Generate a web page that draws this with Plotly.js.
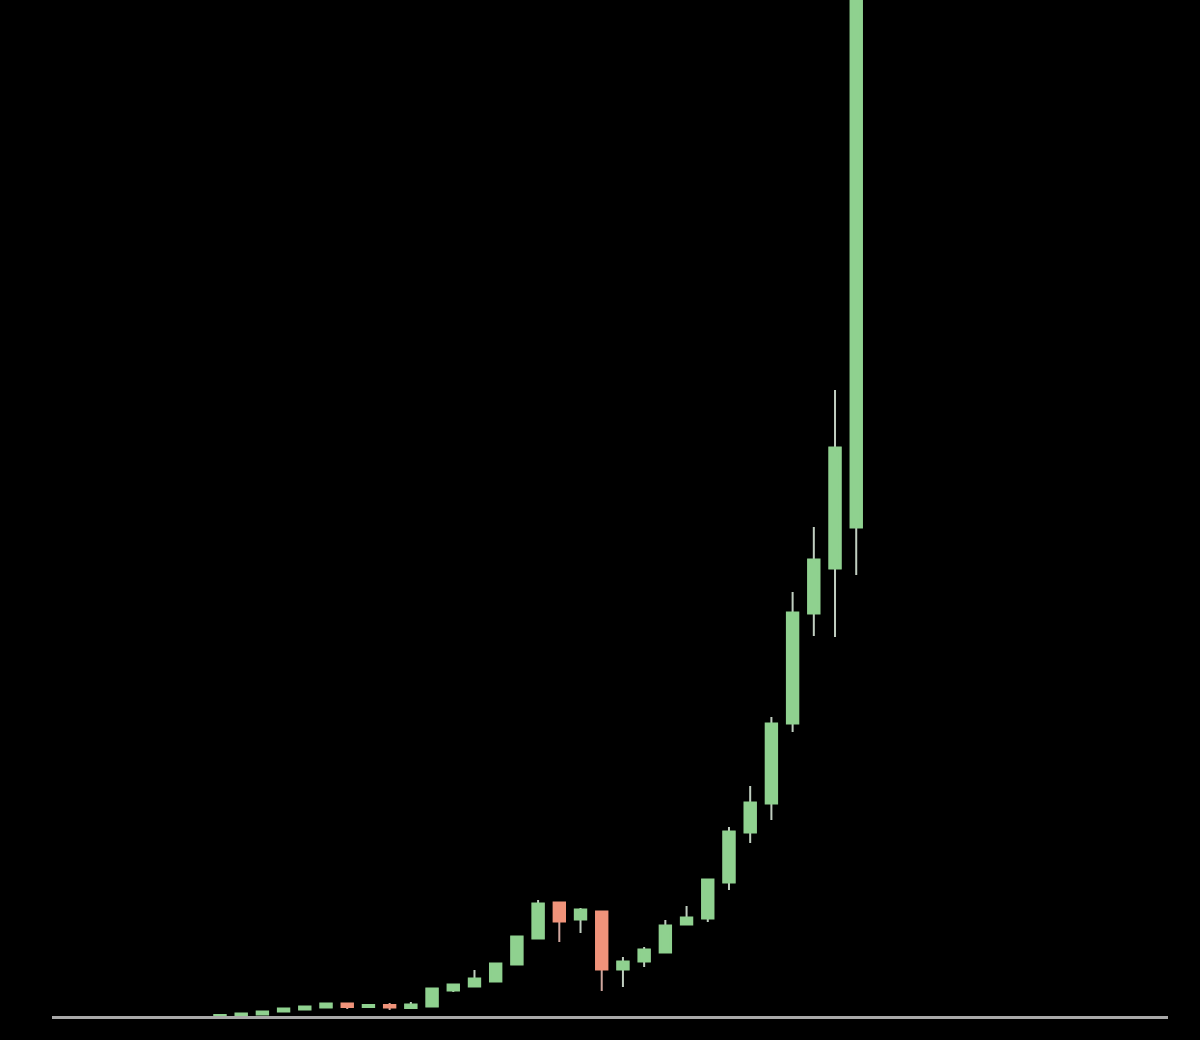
<!DOCTYPE html>
<html>
<head>
<meta charset="utf-8">
<script src="https://cdn.plot.ly/plotly-3.0.1.min.js"></script>
<style>
  html, body { margin: 0; padding: 0; background: #000; }
  #chart { width: 1200px; height: 1040px; }
</style>
</head>
<body>
<div id="chart"></div>
<script>
// Period index (one candle per period)
const periods = [0,1,2,3,4,5,6,7,8,9,10,11,12,13,14,15,16,17,18,19,20,21,22,23,24,25,26,27,28,29,30];
// OHLC values (price units)
const opens  = [1, 1.5, 4, 7, 9, 11, 14, 11.5, 12.5, 10.5, 12, 28, 32, 37, 54, 80, 115, 99, 106, 49, 57, 66, 94, 100, 136, 186, 215, 295, 405, 450, 491];
const highs  = [3, 5, 7, 10, 12, 15, 15, 14, 15, 16, 29.5, 33.5, 48, 55, 82, 118, 116, 110, 107, 61, 71, 98, 112, 139, 191, 232, 301, 426, 491, 628, 1350];
const lows   = [0.8, 1, 3.5, 6.5, 8.5, 10.5, 9, 10.5, 8, 10, 11.5, 26, 31, 36, 53, 79, 76, 85, 27, 31, 51, 65, 93, 96, 128, 175, 198, 286, 382, 381, 443];
const closes = [2.5, 4, 6, 9, 11, 14, 11.5, 12.5, 11, 13, 29, 33, 39, 54, 81, 114, 97, 108, 49, 56, 68, 92, 100, 138, 186, 215, 294, 405, 458, 570, 1300];

const bodyHigh = opens.map((o, i) => Math.max(o, closes[i]));
const bodyLow  = opens.map((o, i) => Math.min(o, closes[i]));

const GREEN = '#8fd18f';
const RED = '#f0937a';

const wicks = {
  type: 'candlestick',
  x: periods, open: opens, high: highs, low: lows, close: closes,
  increasing: { line: { color: '#c0cec0', width: 2 }, fillcolor: GREEN },
  decreasing: { line: { color: '#d0a69e', width: 2 }, fillcolor: RED },
  whiskerwidth: 0,
  hoverinfo: 'skip',
  showlegend: false
};
const bodies = {
  type: 'candlestick',
  x: periods, open: opens, high: bodyHigh, low: bodyLow, close: closes,
  increasing: { line: { color: GREEN, width: 3 }, fillcolor: GREEN },
  decreasing: { line: { color: RED, width: 3 }, fillcolor: RED },
  whiskerwidth: 0,
  showlegend: false
};

const layout = {
  width: 1200, height: 1040,
  paper_bgcolor: '#000000', plot_bgcolor: '#000000',
  margin: { l: 52, r: 32, t: 0, b: 24 },
  showlegend: false,
  xaxis: {
    range: [-7.92, 44.7],
    showgrid: false, zeroline: false, showticklabels: false, ticks: '',
    showline: true, linecolor: '#a8a8a8', linewidth: 3,
    rangeslider: { visible: false },
    fixedrange: true
  },
  yaxis: {
    range: [2, 1018],
    showgrid: false, zeroline: false, showticklabels: false, ticks: '',
    showline: false, fixedrange: true
  }
};

Plotly.newPlot('chart', [wicks, bodies], layout, { displayModeBar: false, staticPlot: true });
</script>
</body>
</html>
